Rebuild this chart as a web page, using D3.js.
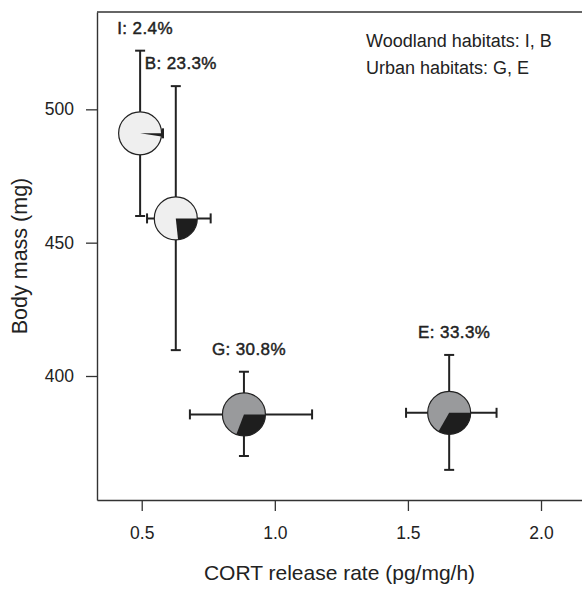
<!DOCTYPE html>
<html>
<head>
<meta charset="utf-8">
<script src="https://cdn.jsdelivr.net/npm/d3@7"></script>
<style>
  body { margin: 0; background: #fff; }
  text { font-family: "Liberation Sans", Arial, sans-serif; fill: #222; }
</style>
</head>
<body>
<div id="chart"></div>
<script>
// site data
var sites = ["I", "B", "G", "E"];
var urbanPct = [2.4, 23.3, 30.8, 33.3];
var habitat = ["woodland", "woodland", "urban", "urban"];
var cortMean = [0.494, 0.628, 0.884, 1.655];
var cortLow = [0.45, 0.52, 0.681, 1.493];
var cortHigh = [0.58, 0.759, 1.140, 1.833];
var massMean = [491, 459.1, 385.6, 386.2];
var massLow = [460, 409.7, 370, 364.8];
var massHigh = [522, 508.7, 401.6, 407.9];
var xTicks = [0.5, 1.0, 1.5, 2.0];
var yTicks = [400, 450, 500];
var legendLines = ["Woodland habitats: I, B", "Urban habitats: G, E"];

var width = 582,
    height = 589,
    margin = {top: 12, right: 0, bottom: 89, left: 97};

var data = sites.map(function(s, i) {
  return {site: s, pct: urbanPct[i], habitat: habitat[i],
          x: cortMean[i], xlo: cortLow[i], xhi: cortHigh[i],
          y: massMean[i], ylo: massLow[i], yhi: massHigh[i]};
});

var x = d3.scaleLinear()
    .domain([0.332, 2.154])
    .range([margin.left, width - margin.right]);

var y = d3.scaleLinear()
    .domain([353.5, 536.5])
    .range([height - margin.bottom, margin.top]);

var svg = d3.select("#chart").append("svg")
    .attr("width", width)
    .attr("height", height);

var ink = "#222";

// axes
var xAxis = svg.append("g")
    .attr("transform", "translate(0," + (height - margin.bottom) + ")")
    .call(d3.axisBottom(x).tickValues(xTicks).tickFormat(d3.format(".1f"))
      .tickSize(11).tickSizeOuter(0).tickPadding(16));

var yAxis = svg.append("g")
    .attr("transform", "translate(" + margin.left + ",0)")
    .call(d3.axisLeft(y).tickValues(yTicks).tickFormat(d3.format("d"))
      .tickSize(11).tickSizeOuter(0).tickPadding(12));

[xAxis, yAxis].forEach(function(g) {
  g.select(".domain").attr("stroke", "#333").attr("stroke-width", 1.4);
  g.selectAll(".tick line").attr("stroke", "#333").attr("stroke-width", 1.3);
  g.selectAll(".tick text")
    .attr("fill", ink)
    .style("font-size", "17.5px")
    .style("font-family", "'Liberation Sans', Arial, sans-serif");
});

// top border of the box
svg.append("line")
    .attr("x1", margin.left).attr("x2", width)
    .attr("y1", margin.top).attr("y2", margin.top)
    .attr("stroke", "#333").attr("stroke-width", 1.4);

// axis titles
svg.append("text")
    .attr("x", (margin.left + width) / 2)
    .attr("y", 580)
    .attr("text-anchor", "middle")
    .style("font-size", "21px")
    .text("CORT release rate (pg/mg/h)");

svg.append("text")
    .attr("transform", "translate(27," + (margin.top + height - margin.bottom) / 2 + ") rotate(-90)")
    .attr("text-anchor", "middle")
    .style("font-size", "21.5px")
    .text("Body mass (mg)");

// error bars
var cap = 5;
var bars = svg.append("g")
    .attr("stroke", ink)
    .attr("stroke-width", 2)
    .attr("fill", "none");

data.forEach(function(d) {
  bars.append("line")
    .attr("x1", x(d.x)).attr("x2", x(d.x))
    .attr("y1", y(d.ylo)).attr("y2", y(d.yhi));
  bars.append("line")
    .attr("x1", x(d.x) - cap).attr("x2", x(d.x) + cap)
    .attr("y1", y(d.ylo)).attr("y2", y(d.ylo));
  bars.append("line")
    .attr("x1", x(d.x) - cap).attr("x2", x(d.x) + cap)
    .attr("y1", y(d.yhi)).attr("y2", y(d.yhi));
  bars.append("line")
    .attr("x1", x(d.xlo)).attr("x2", x(d.xhi))
    .attr("y1", y(d.y)).attr("y2", y(d.y));
  bars.append("line")
    .attr("x1", x(d.xlo)).attr("x2", x(d.xlo))
    .attr("y1", y(d.y) - cap).attr("y2", y(d.y) + cap);
  bars.append("line")
    .attr("x1", x(d.xhi)).attr("x2", x(d.xhi))
    .attr("y1", y(d.y) - cap).attr("y2", y(d.y) + cap);
});

// pie symbols
var r = 21.5;
var fill = {woodland: "#efefef", urban: "#999a9c"};
var arc = d3.arc().innerRadius(0).outerRadius(r);

var pies = svg.selectAll(".pie")
    .data(data)
    .enter().append("g")
    .attr("class", "pie")
    .attr("transform", function(d) { return "translate(" + x(d.x) + "," + y(d.y) + ")"; });

pies.append("circle")
    .attr("r", r)
    .attr("fill", function(d) { return fill[d.habitat]; });

pies.append("path")
    .attr("d", function(d) {
      return arc({startAngle: Math.PI / 2, endAngle: Math.PI / 2 + d.pct / 100 * 2 * Math.PI});
    })
    .attr("fill", "#1e1e1e");

pies.append("circle")
    .attr("r", r)
    .attr("fill", "none")
    .attr("stroke", ink)
    .attr("stroke-width", 1.2);

// site labels
svg.selectAll(".lab")
    .data(data)
    .enter().append("text")
    .attr("class", "lab")
    .attr("x", function(d) { return x(d.x) + 5; })
    .attr("y", function(d) { return y(d.yhi) - 17; })
    .attr("text-anchor", "middle")
    .attr("stroke", ink)
    .attr("stroke-width", 0.45)
    .style("font-size", "17px")
    .style("letter-spacing", "0.4px")
    .text(function(d) { return d.site + ": " + d.pct + "%"; });

// legend text
svg.selectAll(".legend")
    .data(legendLines)
    .enter().append("text")
    .attr("class", "legend")
    .attr("x", 366)
    .attr("y", function(d, i) { return 47 + i * 26.5; })
    .style("font-size", "18px")
    .text(function(d) { return d; });
</script>
</body>
</html>
